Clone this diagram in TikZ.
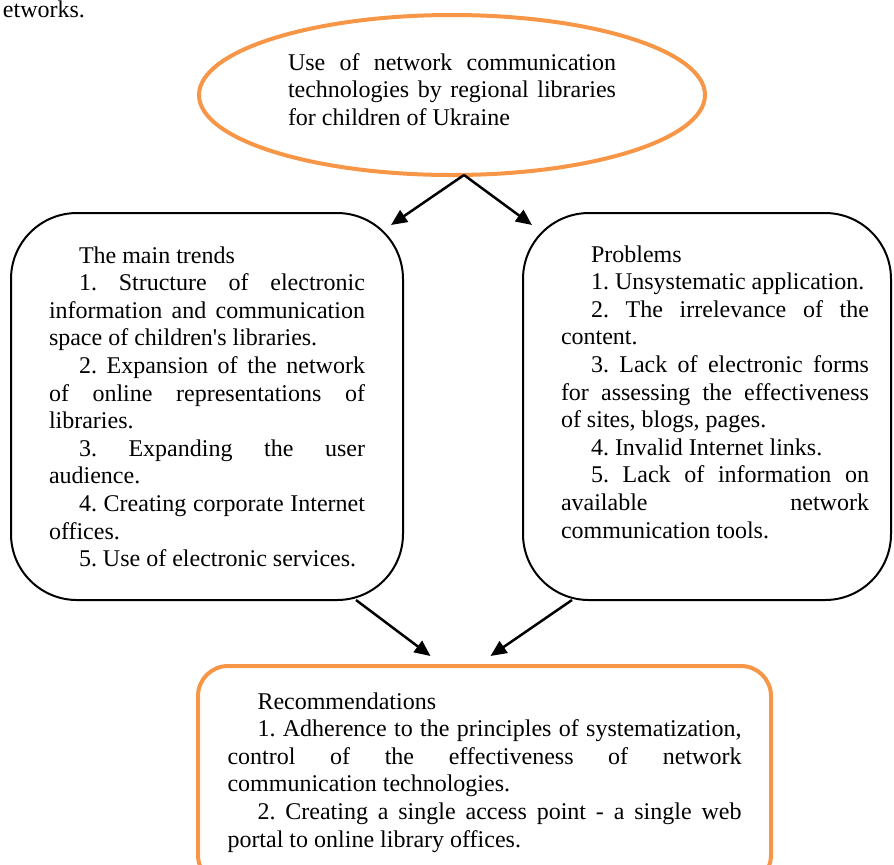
\documentclass[tikz,border=0pt]{standalone}
\usepackage{fontspec}
\setmainfont{Liberation Serif}
\definecolor{naranja}{HTML}{F79646}
\usetikzlibrary{calc, positioning, shapes.geometric, arrows.meta}
\tolerance=10000
\hbadness=10000
\hyphenpenalty=10000
\exhyphenpenalty=10000
\frenchspacing

\begin{document}
\begin{tikzpicture}[x=0.5pt, y=-0.5pt,
  txt/.style={font=\fontsize{12}{13.8}\selectfont, align=justify, inner ysep=0pt, outer sep=0pt},
  cajon/.style={txt, draw, line width=1pt, rounded corners=33pt, anchor=north},
  flecha/.style={line width=1.25pt, -{Triangle[length=8pt, width=7pt]}}]
\useasboundingbox (0,0) rectangle (894,864);

% tail of the sentence above the figure
\node[txt, anchor=base west, inner sep=0pt] (tail) at (3,17) {etworks.};

% topic
\node[txt, ellipse, draw=naranja, line width=2pt, minimum width=253pt, minimum height=80pt,
      inner sep=0pt, text width=164pt, text height=8pt, text depth=33pt] (topic) at (452,95) {
  Use of network communication\linebreak
  technologies by regional libraries\linebreak
  for children of Ukraine\par
};

% trends and problems
\node[cajon, minimum width=196pt, inner xsep=19pt, text width=158pt,
      text height=25pt, text depth=168.5pt] (trends) at (207,213) {
  \parindent=15pt\indent The main trends\par
  1. Structure of electronic\linebreak
  information and communication\linebreak
  space of children\textquotesingle s libraries.\par
  2. Expansion of the network\linebreak
  of online representations of\linebreak
  libraries.\par
  3. Expanding the user\linebreak
  audience.\par
  4. Creating corporate Internet\linebreak
  offices.\par
  5. Use of electronic services.\par
};
\node[cajon, minimum width=184pt, inner xsep=11pt, text width=162pt,
      text height=24.5pt, text depth=169pt] (problems) at (707,213) {
  \leftskip=8pt\parindent=15pt\indent Problems\par
  1. Unsystematic application.\par
  2. The irrelevance of the\linebreak
  content.\par
  3. Lack of electronic forms\linebreak
  for assessing the effectiveness\linebreak
  of sites, blogs, pages.\par
  4. Invalid Internet links.\par
  5. Lack of information on\linebreak
  available network\linebreak
  communication tools.\par
};

% recommendations
\node[cajon, draw=naranja, line width=2pt, rounded corners=15pt, minimum width=286.5pt,
      inner xsep=14.75pt, text width=257pt, text height=21.5pt, text depth=88pt] (recs) at (484.5,666) {
  \parindent=15pt\indent Recommendations\par
  1. Adherence to the principles of systematization,\linebreak
  control of the effectiveness of network\linebreak
  communication technologies.\par
  2. Creating a single access point - a single web\linebreak
  portal to online library offices.\par
};

% arrows
\coordinate (fork) at ([shift={(12,0)}]topic.south);
\draw[flecha] (fork) -- ([shift={(-12,12)}]trends.north east);
\draw[flecha] (fork) -- ([shift={(9,12)}]problems.north west);
\draw[flecha] ([shift={(-47,0)}]trends.south east) -- ([shift={(-54,-10)}]recs.north);
\draw[flecha] ([shift={(49,0)}]problems.south west) -- ([shift={(6,-10)}]recs.north);
\end{tikzpicture}
\end{document}
